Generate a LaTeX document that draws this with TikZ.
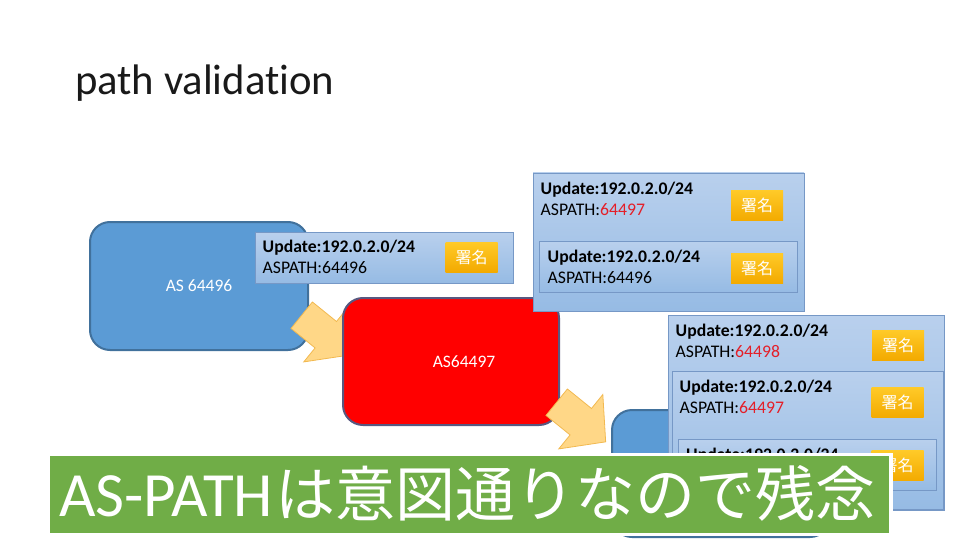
\documentclass[tikz,border=0pt]{standalone}
\usepackage{fontspec}
\setmainfont{Carlito}[Ligatures=NoCommon]
\newfontfamily\jp{Noto Sans CJK JP}
\definecolor{asblue}{RGB}{91,155,213}
\definecolor{asborder}{RGB}{65,113,156}
\definecolor{redborder}{RGB}{88,88,128}
\definecolor{updtop}{RGB}{185,208,237}
\definecolor{updbot}{RGB}{150,187,228}
\definecolor{updborder}{RGB}{118,152,198}
\definecolor{sigtop}{RGB}{255,202,40}
\definecolor{sigbot}{RGB}{243,170,0}
\definecolor{arrowfill}{RGB}{255,215,135}
\definecolor{arrowdraw}{RGB}{242,185,80}
\definecolor{numred}{RGB}{228,30,40}
\definecolor{banner}{RGB}{112,173,71}
\begin{document}
\begin{tikzpicture}[x=1pt,y=-1pt,
  asnode/.style={rectangle, rounded corners=20pt, draw=asborder, line width=2pt, fill=asblue, text=white, inner sep=0pt, font=\fontsize{17.5}{20}\selectfont},
  rednode/.style={rectangle, rounded corners=20pt, draw=redborder, line width=2pt, fill=red, inner sep=0pt},
  updbox/.style={rectangle, draw=updborder, line width=0.9pt, top color=updtop, bottom color=updbot, inner sep=0pt},
  sigbox/.style={rectangle, top color=sigtop, bottom color=sigbot, minimum width=52pt, minimum height=30pt, inner sep=0pt, text=white, font=\jp\fontsize{16}{16}\selectfont},
  upline/.style={anchor=base west, inner sep=0pt, font=\fontsize{17.7}{20}\selectfont\bfseries},
  asline/.style={anchor=base west, inner sep=0pt, font=\fontsize{17.7}{20}\selectfont},
  astext/.style={inner sep=0pt, text=white, font=\fontsize{17.5}{20}\selectfont},
  blockarrow/.style={fill=arrowfill, draw=arrowdraw, line width=0.8pt, line join=miter},
]
\useasboundingbox (0,0) rectangle (960,540);

% title
\node[anchor=base west, inner sep=0pt, font=\fontsize{42.7}{48}\selectfont, text=black!90] (title) at (75,95) {path validation};

% AS 64496
\node[asnode, minimum width=218pt, minimum height=128pt] (as1) at (199,286) {AS 64496};

% arrow 1
\coordinate (a1tail) at (301.7,315.2);
\begin{scope}[shift={(a1tail)}, rotate=-39]
  \draw[blockarrow] (0,-17) -- (31,-17) -- (31,-35) -- (63,0) -- (31,35) -- (31,17) -- (0,17) -- cycle;
\end{scope}

% update box 1
\node[updbox, minimum width=258pt, minimum height=51pt] (u1) at (384,257.5) {};
\node[upline] (u1a) at (262.5,252) {Update:192.0.2.0/24};
\node[asline] (u1b) at (262.5,273) {ASPATH:64496};
\node[sigbox] (s1) at (471.5,257) {署名};

% AS64497
\node[rednode, minimum width=216pt, minimum height=127pt] (as2) at (451,361.5) {};
\node[astext] (as2t) at (464,362) {AS64497};

% update box 2
\node[updbox, minimum width=271pt, minimum height=138pt] (u2) at (668.5,242) {};
\node[upline] (u2a) at (540.5,194) {Update:192.0.2.0/24};
\node[asline] (u2b) at (540.5,215.5) {ASPATH:\textcolor{numred}{64497}};
\node[sigbox] (s2) at (757,205.5) {署名};
\node[updbox, minimum width=258pt, minimum height=51pt] (u2i) at (668,266.5) {};
\node[upline] (u2ia) at (547.5,262) {Update:192.0.2.0/24};
\node[asline] (u2ib) at (547.5,283) {ASPATH:64496};
\node[sigbox] (s2i) at (757,268) {署名};

% arrow 2
\coordinate (a2tail) at (556.7,402.2);
\begin{scope}[shift={(a2tail)}, rotate=-39]
  \draw[blockarrow] (0,-17) -- (31,-17) -- (31,-35) -- (63,0) -- (31,35) -- (31,17) -- (0,17) -- cycle;
\end{scope}

% AS box 3
\node[asnode, minimum width=218pt, minimum height=127pt] (as3) at (721,473.5) {};

% update box 3
\node[updbox, minimum width=276pt, minimum height=195pt] (u3) at (806,412.5) {};
\node[upline] (u3a) at (675.5,336) {Update:192.0.2.0/24};
\node[asline] (u3b) at (675.5,357) {ASPATH:\textcolor{numred}{64498}};
\node[sigbox] (s3) at (898,345) {署名};
\node[updbox, minimum width=271pt, minimum height=138pt] (u3m) at (807.5,440) {};
\node[upline] (u3ma) at (679.5,392) {Update:192.0.2.0/24};
\node[asline] (u3mb) at (679.5,413) {ASPATH:\textcolor{numred}{64497}};
\node[sigbox] (s3m) at (897.5,402.5) {署名};
\node[updbox, minimum width=258pt, minimum height=51pt] (u3i) at (807,464.5) {};
\node[upline] (u3ia) at (686,460) {Update:192.0.2.0/24};
\node[sigbox] (s3i) at (897.5,465.5) {署名};

% banner
\node[rectangle, fill=banner, draw=white, line width=3.5pt, minimum width=842.5pt, minimum height=80pt, inner sep=0pt] (banner) at (469.5,494.25) {};
\node[anchor=base west, inner sep=0pt, text=white] (bannertext) at (59,516) {{\fontsize{63}{63}\selectfont AS-PATH}\kern3pt{\jp\fontsize{60}{60}\selectfont は意図通りなので残念}};
\end{tikzpicture}
\end{document}
